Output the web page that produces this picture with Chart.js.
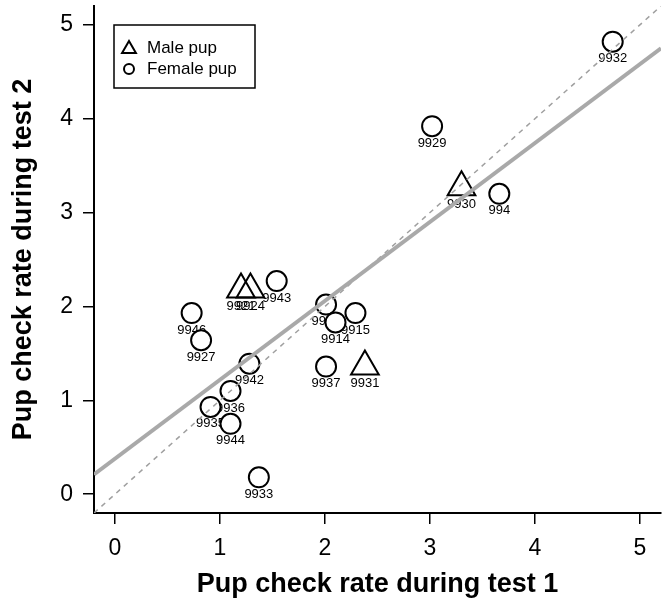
<!DOCTYPE html>
<html>
<head>
<meta charset="utf-8">
<script src="https://cdn.jsdelivr.net/npm/chart.js@4.4.0/dist/chart.umd.min.js"></script>
<style>
  html, body { margin: 0; padding: 0; background: #fff; }
</style>
</head>
<body>
<canvas id="myChart" width="672" height="606"></canvas>
<script>
// pups
var maleIds = ['9921', '9924', '9930', '9931'];
var maleTest1 = [1.20, 1.29, 3.30, 2.38];
var maleTest2 = [2.18, 2.18, 3.27, 1.36];

var femaleIds = ['9932', '9929', '994', '9939', '9914', '9915', '9937', '9943',
                 '9946', '9927', '9942', '9936', '9935', '9944', '9933'];
var femaleTest1 = [4.74, 3.02, 3.66, 2.01, 2.10, 2.29, 2.01, 1.54, 0.73, 0.82, 1.28, 1.10, 0.91, 1.10, 1.37];
var femaleTest2 = [4.82, 3.92, 3.20, 2.02, 1.83, 1.93, 1.36, 2.27, 1.93, 1.64, 1.39, 1.10, 0.93, 0.75, 0.18];

// regression line and 1:1 line
var fitX = [-0.2, 5.2];
var fitY = [0.21, 4.75];
var refX = [-0.2, 5.2];
var refY = [-0.2, 5.2];

var axisTicks = [0, 1, 2, 3, 4, 5];
var legendLabels = ['Male pup', 'Female pup'];

var FONT = '"Liberation Sans", Arial, sans-serif';
Chart.defaults.font.family = FONT;
Chart.defaults.color = '#000';

function toPoints(xs, ys) {
  return xs.map(function (x, i) { return { x: x, y: ys[i] }; });
}

var pointLabels = {
  id: 'pointLabels',
  beforeDatasetsDraw: function (chart) {
    var ctx = chart.ctx;
    ctx.save();
    ctx.font = '13px ' + FONT;
    ctx.fillStyle = '#000';
    ctx.textAlign = 'center';
    ctx.textBaseline = 'middle';
    chart.data.datasets.forEach(function (ds, i) {
      if (!ds.ids) return;
      chart.getDatasetMeta(i).data.forEach(function (pt, j) {
        ctx.fillText(ds.ids[j], pt.x, pt.y + 17);
      });
    });
    ctx.restore();
  },
  afterDraw: function (chart) {
    // legend box, top left inside the plot
    var ctx = chart.ctx;
    var a = chart.chartArea;
    var bx = a.left + 20, by = a.top + 19;
    ctx.save();
    ctx.strokeStyle = '#000';
    ctx.lineWidth = 1.5;
    ctx.strokeRect(bx, by, 141, 63);
    ctx.lineWidth = 2;
    var tx = bx + 15, ty = by + 24, r = 8;
    ctx.beginPath();
    ctx.moveTo(tx, ty - r);
    ctx.lineTo(tx + r * 0.866, ty + r / 2);
    ctx.lineTo(tx - r * 0.866, ty + r / 2);
    ctx.closePath();
    ctx.stroke();
    ctx.beginPath();
    ctx.arc(bx + 15, by + 44, 5, 0, Math.PI * 2);
    ctx.stroke();
    ctx.fillStyle = '#000';
    ctx.font = '17px ' + FONT;
    ctx.textBaseline = 'middle';
    ctx.fillText(legendLabels[0], bx + 33, by + 23);
    ctx.fillText(legendLabels[1], bx + 33, by + 44);
    ctx.restore();
  }
};

var ctx = document.getElementById('myChart').getContext('2d');
var chart = new Chart(ctx, {
  type: 'scatter',
  data: {
    datasets: [{
      label: 'fit',
      data: toPoints(fitX, fitY),
      showLine: true,
      borderColor: '#a9a9a9',
      borderWidth: 4,
      pointRadius: 0,
      order: 0
    }, {
      label: '1:1',
      data: toPoints(refX, refY),
      showLine: true,
      borderColor: '#a0a0a0',
      borderWidth: 1.5,
      borderDash: [5, 5],
      pointRadius: 0,
      order: 0
    }, {
      label: 'Female pup',
      ids: femaleIds,
      data: toPoints(femaleTest1, femaleTest2),
      pointStyle: 'circle',
      pointRadius: 10,
      borderColor: '#000',
      borderWidth: 2,
      backgroundColor: '#fff',
      order: 1
    }, {
      label: 'Male pup',
      ids: maleIds,
      data: toPoints(maleTest1, maleTest2),
      pointStyle: 'triangle',
      pointRadius: 16,
      borderColor: '#000',
      borderWidth: 2,
      backgroundColor: 'rgba(255,255,255,0)',
      order: 1
    }]
  },
  options: {
    responsive: false,
    animation: false,
    layout: { autoPadding: false, padding: { left: 0, right: 11, top: 6, bottom: 0 } },
    plugins: {
      legend: { display: false },
      tooltip: { enabled: false }
    },
    scales: {
      x: {
        type: 'linear',
        min: -0.2,
        max: 5.2,
        afterBuildTicks: function (s) { s.ticks = axisTicks.map(function (v) { return { value: v }; }); },
        afterFit: function (s) { s.height = 93; s.paddingLeft = 0; s.paddingRight = 0; },
        grid: { drawOnChartArea: false, drawTicks: true, tickLength: 11, color: '#000', lineWidth: 1.5 },
        border: { display: true, color: '#000', width: 2 },
        ticks: { font: { size: 23 }, color: '#000', padding: 11, maxRotation: 0 },
        title: {
          display: true,
          text: 'Pup check rate during test 1',
          font: { size: 27, weight: 'bold' },
          color: '#000',
          padding: { top: 0, bottom: 5 }
        }
      },
      y: {
        type: 'linear',
        min: -0.2,
        max: 5.2,
        afterBuildTicks: function (s) { s.ticks = axisTicks.map(function (v) { return { value: v }; }); },
        afterFit: function (s) { s.width = 94; s.paddingTop = 0; s.paddingBottom = 0; },
        grid: { drawOnChartArea: false, drawTicks: true, tickLength: 11, color: '#000', lineWidth: 1.5 },
        border: { display: true, color: '#000', width: 2 },
        ticks: { font: { size: 23 }, color: '#000', padding: 10 },
        title: {
          display: true,
          text: 'Pup check rate during test 2',
          font: { size: 27, weight: 'bold' },
          color: '#000',
          padding: { top: 7, bottom: 7 }
        }
      }
    }
  },
  plugins: [pointLabels]
});
</script>
</body>
</html>
